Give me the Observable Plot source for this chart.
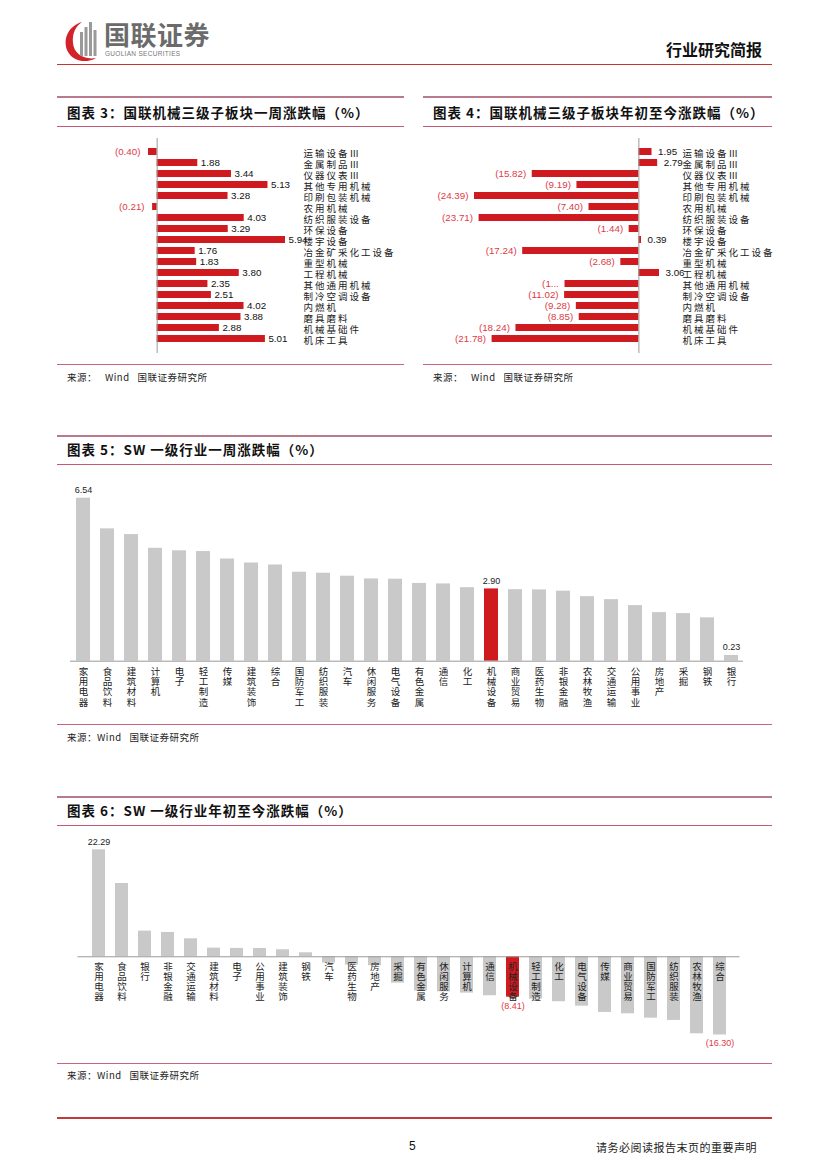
<!DOCTYPE html>
<html><head><meta charset="utf-8">
<script src="https://cdn.jsdelivr.net/npm/d3@7"></script>
<script src="https://cdn.jsdelivr.net/npm/@observablehq/plot@0.6"></script>
<style>
html,body{margin:0;padding:0;background:#fff;}
body{width:827px;height:1169px;position:relative;overflow:hidden;font-family:"Noto Sans CJK SC","Noto Sans",sans-serif;}
.abs{position:absolute;}
.title{position:absolute;font-weight:700;font-size:13.5px;color:#111;letter-spacing:1px;white-space:nowrap;line-height:1;}
.hl{position:absolute;height:0;}
.src{position:absolute;font-size:9.5px;color:#222;white-space:nowrap;letter-spacing:0.5px;}
.chart{position:absolute;}
</style></head>
<body>
<div id="page"></div>
<script>
// ---------- DATA ----------
const subNames = ["运输设备Ⅲ","金属制品Ⅲ","仪器仪表Ⅲ","其他专用机械","印刷包装机械","农用机械","纺织服装设备","环保设备","楼宇设备","冶金矿采化工设备","重型机械","工程机械","其他通用机械","制冷空调设备","内燃机","磨具磨料","机械基础件","机床工具"];
const subWeek = [-0.40,1.88,3.44,5.13,3.28,-0.21,4.03,3.29,5.94,1.76,1.83,3.80,2.35,2.51,4.02,3.88,2.88,5.01];
const subYtd = [1.95,2.79,-15.82,-9.19,-24.39,-7.40,-23.71,-1.44,0.39,-17.24,-2.68,3.06,-10.96,-11.02,-9.28,-8.85,-18.24,-21.78];
const subYtdLabelOverride = {"其他通用机械":"(1..."};

const swWeekNames = ["家用电器","食品饮料","建筑材料","计算机","电子","轻工制造","传媒","建筑装饰","综合","国防军工","纺织服装","汽车","休闲服务","电气设备","有色金属","通信","化工","机械设备","商业贸易","医药生物","非银金融","农林牧渔","交通运输","公用事业","房地产","采掘","钢铁","银行"];
const swWeek = [6.54,5.31,5.08,4.53,4.43,4.40,4.10,3.94,3.86,3.57,3.53,3.41,3.30,3.29,3.12,3.10,2.95,2.90,2.87,2.86,2.81,2.59,2.47,2.23,1.95,1.91,1.74,0.23];
const swWeekLabeled = ["家用电器","机械设备","银行"];

const swYtdNames = ["家用电器","食品饮料","银行","非银金融","交通运输","建筑材料","电子","公用事业","建筑装饰","钢铁","汽车","医药生物","房地产","采掘","有色金属","休闲服务","计算机","通信","机械设备","轻工制造","化工","电气设备","传媒","商业贸易","国防军工","纺织服装","农林牧渔","综合"];
const swYtd = [22.29,15.27,5.35,5.07,3.75,1.80,1.74,1.72,1.46,0.83,-1.32,-1.74,-1.87,-5.48,-7.10,-7.30,-7.57,-8.12,-8.41,-8.82,-9.37,-10.29,-11.60,-11.88,-12.79,-13.27,-16.05,-16.30];
const swYtdLabeled = ["家用电器","机械设备","综合"];
const highlight = "机械设备";

// ---------- STYLE ----------
const RED = "#cf1b20";
const NEGRED = "#e03a45";
const GRAY = "#c9c9c9";
const AXIS = "#9a9a9a";
const CJK = "'Noto Sans CJK SC', sans-serif";
const NUM = "'Liberation Sans', Arial, sans-serif";

const page = document.getElementById("page");
function el(tag, cls, css, html){const e=document.createElement(tag); if(cls) e.className=cls; Object.assign(e.style, css||{}); if(html!=null) e.innerHTML=html; page.appendChild(e); return e;}
function hline(x,y,w,h,color){el("div","hl",{left:x+"px",top:y+"px",width:w+"px",borderTop:h+"px solid "+color});}
const fmt = v => v < 0 ? "(" + Math.abs(v).toFixed(2) + ")" : v.toFixed(2);

// ---------- HEADER ----------
el("div","abs",{left:"60px",top:"18px",width:"46px",height:"46px"},
`<svg width="46" height="46" viewBox="0 0 46 46">
 <path d="M22 4 C8 8 2 22 8 34 C13 43 26 46 36 40 C24 42 14 36 13 25 C12 15 16 8 22 4Z" fill="#d2232a"/>
 <rect x="20" y="14" width="3" height="24" fill="#9a9a9a"/>
 <rect x="24.5" y="9" width="3" height="29" fill="#9a9a9a"/>
 <rect x="29" y="4" width="3" height="34" fill="#9a9a9a"/>
 <rect x="33.5" y="12" width="3" height="26" fill="#9a9a9a"/>
</svg>`);
el("div","abs",{left:"104px",top:"21px",fontSize:"26px",fontWeight:"700",color:"#6b6b6b",lineHeight:"1",whiteSpace:"nowrap",letterSpacing:"0.5px"},"国联证券");
el("div","abs",{left:"105px",top:"51px",fontSize:"6.5px",lineHeight:"1",color:"#777",fontFamily:NUM,letterSpacing:"0.3px",whiteSpace:"nowrap"},"GUOLIAN SECURITIES");
el("div","abs",{left:"666px",top:"41px",fontSize:"16px",fontWeight:"700",color:"#111",lineHeight:"1",whiteSpace:"nowrap"},"行业研究简报");
hline(57,64,715,1.5,"#c0392f");

// ---------- PANELS ----------
function panel(x,w,topY,titleY,underY,bottomY,srcY,title,src){
  hline(x,topY,w,2,"#b97a8e");
  el("div","title",{left:(x+10)+"px",top:(titleY-7)+"px"},title);
  hline(x,underY,w,1,"#c25a72");
  hline(x,bottomY,w,1.5,"#c7667d");
  el("div","src",{left:(x+10)+"px",top:(srcY-7)+"px"},src);
}
panel(57,347,96,113,126,364,377,"图表 3：国联机械三级子板块一周涨跌幅（%）","来源：&nbsp;&nbsp;&nbsp;Wind&nbsp;&nbsp;&nbsp;国联证券研究所");
panel(423,349,96,113,126,364,377,"图表 4：国联机械三级子板块年初至今涨跌幅（%）","来源：&nbsp;&nbsp;&nbsp;Wind&nbsp;&nbsp;&nbsp;国联证券研究所");
panel(57,715,435,450,464,724,737,"图表 5：SW 一级行业一周涨跌幅（%）","来源：Wind&nbsp;&nbsp;&nbsp;国联证券研究所");
panel(57,715,796,811,825,1063,1075,"图表 6：SW 一级行业年初至今涨跌幅（%）","来源：Wind&nbsp;&nbsp;&nbsp;国联证券研究所");

function place(svg,x,y){const d=el("div","chart",{left:x+"px",top:y+"px"}); d.appendChild(svg); return svg;}
function spaceLastText(svg){
  const gs = svg.querySelectorAll('g[aria-label="text"]');
  const g = gs[gs.length-1];
  if (g) g.querySelectorAll("text").forEach(t=>t.setAttribute("letter-spacing","2"));
}

// ---------- CHART 3 ----------
const d3data = subNames.map((n,i)=>({name:n, v:subWeek[i]}));
spaceLastText(place(Plot.plot({
  width:347,height:230,marginLeft:91,marginRight:119,marginTop:8,marginBottom:7,
  style:{fontFamily:NUM,background:"transparent",overflow:"visible"},
  x:{domain:[-0.40,5.94],axis:null},
  y:{domain:subNames,axis:null,paddingInner:0.33,paddingOuter:0.165},
  marks:[
    Plot.barX(d3data,{x:"v",y:"name",fill:RED}),
    Plot.ruleX([0],{stroke:AXIS,strokeWidth:1}),
    Plot.text(d3data.filter(d=>d.v>=0),{x:"v",y:"name",text:d=>fmt(d.v),textAnchor:"start",dx:3,fontSize:9.8,fill:"#111"}),
    Plot.text(d3data.filter(d=>d.v<0),{x:"v",y:"name",text:d=>fmt(d.v),textAnchor:"end",dx:-8,fontSize:9.8,fill:NEGRED}),
    Plot.text(d3data,{y:"name",text:"name",frameAnchor:"right",textAnchor:"start",dx:18,dy:2,fontSize:9.5,fontFamily:CJK,fill:"#222"})
  ]
}),57,130));

// ---------- CHART 4 ----------
const d4data = subNames.map((n,i)=>({name:n, v:subYtd[i]}));
const lab4 = d => subYtdLabelOverride[d.name] ?? fmt(d.v);
spaceLastText(place(Plot.plot({
  width:347,height:230,marginLeft:51,marginRight:111,marginTop:8,marginBottom:7,
  style:{fontFamily:NUM,background:"transparent",overflow:"visible"},
  x:{domain:[-24.39,3.06],axis:null},
  y:{domain:subNames,axis:null,paddingInner:0.33,paddingOuter:0.165},
  marks:[
    Plot.barX(d4data,{x:"v",y:"name",fill:RED}),
    Plot.ruleX([0],{stroke:AXIS,strokeWidth:1}),
    Plot.text(d4data.filter(d=>d.v>=0),{x:"v",y:"name",text:lab4,textAnchor:"start",dx:6,fontSize:9.8,fill:"#111"}),
    Plot.text(d4data.filter(d=>d.v<0),{x:"v",y:"name",text:lab4,textAnchor:"end",dx:-6,fontSize:9.8,fill:NEGRED}),
    Plot.text(d4data,{y:"name",text:"name",frameAnchor:"right",textAnchor:"start",dx:23,dy:2,fontSize:9.5,fontFamily:CJK,fill:"#222"})
  ]
}),423,130));

// ---------- CHART 5 ----------
const d5data = swWeekNames.map((n,i)=>({name:n, v:swWeek[i]}));
const vert = d => [...d.name].join("\n");
place(Plot.plot({
  width:713,height:256,marginLeft:13,marginRight:27,marginTop:29.7,marginBottom:63.3,
  style:{fontFamily:NUM,background:"transparent",overflow:"visible"},
  x:{domain:swWeekNames,axis:null,paddingInner:0.42,paddingOuter:0.21},
  y:{domain:[0,6.54],axis:null},
  marks:[
    Plot.barY(d5data,{x:"name",y:"v",fill:d=>d.name===highlight?RED:GRAY}),
    Plot.ruleY([0],{stroke:AXIS,strokeWidth:1}),
    Plot.text(d5data.filter(d=>swWeekLabeled.includes(d.name)),{x:"name",y:"v",text:d=>fmt(d.v),lineAnchor:"bottom",dy:-5,fontSize:9,fill:"#222"}),
    Plot.text(d5data,{x:"name",y:0,text:vert,lineAnchor:"top",dy:7,fontSize:9.5,lineHeight:1.06,fontFamily:CJK,fill:"#222"})
  ]
}),57,468);

// ---------- CHART 6 ----------
const d6data = swYtdNames.map((n,i)=>({name:n, v:swYtd[i]}));
place(Plot.plot({
  width:713,height:232,marginLeft:20.5,marginRight:30.5,marginTop:21.3,marginBottom:25.5,
  style:{fontFamily:NUM,background:"transparent",overflow:"visible"},
  x:{domain:swYtdNames,axis:null,paddingInner:0.44,paddingOuter:0.22},
  y:{domain:[-16.30,22.29],axis:null},
  marks:[
    Plot.barY(d6data,{x:"name",y:"v",fill:d=>d.name===highlight?RED:GRAY}),
    Plot.ruleY([0],{stroke:AXIS,strokeWidth:1}),
    Plot.text(d6data.filter(d=>swYtdLabeled.includes(d.name)&&d.v>=0),{x:"name",y:"v",text:d=>fmt(d.v),lineAnchor:"bottom",dy:-5,fontSize:9,fill:"#222"}),
    Plot.text(d6data.filter(d=>swYtdLabeled.includes(d.name)&&d.v<0),{x:"name",y:"v",text:d=>fmt(d.v),lineAnchor:"top",dy:5,fontSize:9,fill:NEGRED}),
    Plot.text(d6data,{x:"name",y:0,text:vert,lineAnchor:"top",dy:6,fontSize:9.5,lineHeight:1.06,fontFamily:CJK,fill:"#222"})
  ]
}),57,828);

// ---------- FOOTER ----------
hline(57,1117,715,2,"#c23b3b");
el("div","abs",{left:"409px",top:"1139px",fontSize:"12px",fontFamily:NUM,color:"#111"},"5");
el("div","abs",{left:"596px",top:"1139px",fontSize:"11px",color:"#222",letterSpacing:"0.5px",whiteSpace:"nowrap"},"请务必阅读报告末页的重要声明");
</script>
</body></html>
